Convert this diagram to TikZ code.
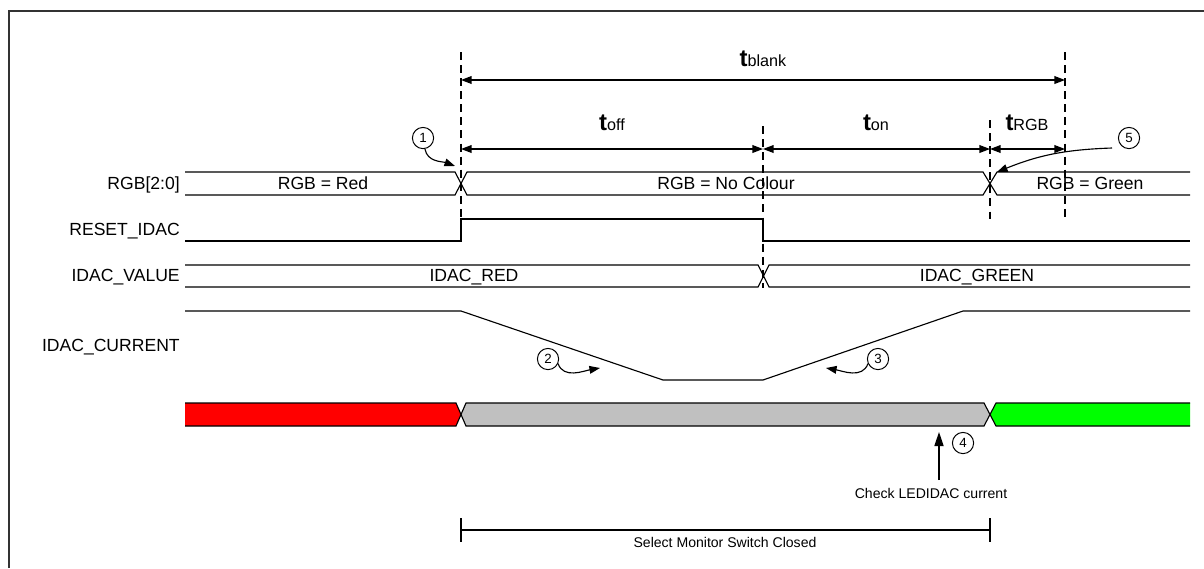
\documentclass[tikz,border=0pt]{standalone}
\usepackage{fontspec}
\setmainfont{Liberation Sans}
\usetikzlibrary{arrows.meta}
\definecolor{barred}{RGB}{255,0,0}
\definecolor{bargray}{RGB}{192,192,192}
\definecolor{bargreen}{RGB}{0,255,0}
\newcommand{\tname}[1]{{\fontsize{17}{17}\selectfont\bfseries t}\raisebox{-0.5pt}{\fontsize{11.5}{12}\selectfont #1}}
\begin{document}
\begin{tikzpicture}[
  x=0.025cm, y=-0.025cm,
  wave/.style={line width=0.8pt, draw=black},
  guide/.style={line width=0.8pt, draw=black, dash pattern=on 5.7pt off 3.6pt},
  span/.style={line width=0.8pt, {Triangle[length=7.5pt,width=5.5pt]}-{Triangle[length=7.5pt,width=5.5pt]}},
  pointer/.style={line width=0.8pt, -{Triangle[length=7.5pt,width=5.5pt]}},
  bubble/.style={circle, draw=black, line width=0.7pt, inner sep=0pt, minimum size=0.53cm, font=\fontsize{9.5}{10}\selectfont},
  siglabel/.style={anchor=base east, inner sep=0pt, font=\fontsize{12.5}{14}\selectfont},
  buslabel/.style={anchor=base, inner sep=0pt, font=\fontsize{12.5}{14}\selectfont},
  note/.style={anchor=base, inner sep=0pt, font=\fontsize{10}{12}\selectfont},
  tlabel/.style={anchor=base, inner sep=0pt}
]
  \useasboundingbox (0,0) rectangle (1204,568);

  % Marco
  \draw[line width=1pt, black!80] (9,568) -- (9,11) -- (1204,11);

  % Nombres de las señales
  \node[siglabel] (rgb) at (180,189) {RGB[2:0]};
  \node[siglabel] (rst) at (180,235) {RESET\_IDAC};
  \node[siglabel] (val) at (180,281) {IDAC\_VALUE};
  \node[siglabel] (cur) at (180,351) {IDAC\_CURRENT};

  % Bus RGB
  \draw[wave] (185,172) -- (455,172) -- (467,195) -- (983,195) -- (997,172) -- (1190,172);
  \draw[wave] (185,195) -- (455,195) -- (467,172) -- (983,172) -- (997,195) -- (1190,195);
  \node[buslabel] (red) at (323,189) {RGB = Red};
  \node[buslabel] (none) at (726,189) {RGB = No Colour};
  \node[buslabel] (green) at (1090,189) {RGB = Green};

  % RESET_IDAC
  \draw[wave] (185,241) -- (461,241) -- (461,219) -- (763,219) -- (763,241) -- (1190,241);

  % Bus IDAC_VALUE
  \draw[wave] (185,265) -- (758,265) -- (769,287) -- (1190,287);
  \draw[wave] (185,287) -- (758,287) -- (769,265) -- (1190,265);
  \node[buslabel] (vred) at (474,281) {IDAC\_RED};
  \node[buslabel] (vgreen) at (977,281) {IDAC\_GREEN};

  % IDAC_CURRENT
  \draw[wave] (185,311) -- (461,311) -- (663,380) -- (763,380) -- (963,311) -- (1190,311);

  % Barra de color
  \fill[barred] (185,403) -- (456,403) -- (461,414.5) -- (456,426) -- (185,426) -- cycle;
  \fill[bargray] (466,403) -- (984,403) -- (990,414.5) -- (984,426) -- (466,426) -- (461,414.5) -- cycle;
  \fill[bargreen] (996,403) -- (1190,403) -- (1190,426) -- (996,426) -- (990,414.5) -- cycle;
  \draw[wave] (185,403) -- (456,403) -- (466,426) -- (984,426) -- (996,403) -- (1190,403);
  \draw[wave] (185,426) -- (456,426) -- (466,403) -- (984,403) -- (996,426) -- (1190,426);

  % Líneas de referencia
  \coordinate (g1a) at (461,52);   \coordinate (g1b) at (461,219);
  \coordinate (g2a) at (763,126);  \coordinate (g2b) at (763,288);
  \coordinate (g3a) at (990,120);  \coordinate (g3b) at (990,219);
  \coordinate (g4a) at (1065,52);  \coordinate (g4b) at (1065,219);
  \draw[guide] (g1a) -- (g1b);
  \draw[guide] (g2a) -- (g2b);
  \draw[guide] (g3a) -- (g3b);
  \draw[guide] (g4a) -- (g4b);

  % Cotas de tiempo
  \coordinate (b1) at (461,80);   \coordinate (b2) at (1065,80);
  \coordinate (s1) at (461,149);  \coordinate (s2) at (763,149);
  \coordinate (s3) at (990,149);  \coordinate (s4) at (1065,149);
  \draw[span] (b1) -- (b2);
  \draw[span] (s1) -- (s2);
  \draw[span] (s2) -- (s3);
  \draw[span] (s3) -- (s4);
  \node[tlabel] (tblank) at (763,66) {\tname{blank}};
  \node[tlabel] (toff) at (612,130) {\tname{off}};
  \node[tlabel] (ton) at (876,130) {\tname{on}};
  \node[tlabel] (trgb) at (1027,130) {\tname{RGB}};

  % Llamadas numeradas
  \node[bubble] (c1) at (423,138) {1};
  \node[bubble] (c2) at (548,359) {2};
  \node[bubble] (c3) at (878,359) {3};
  \node[bubble] (c4) at (963,443) {4};
  \node[bubble] (c5) at (1129,138) {5};

  \coordinate (p1) at (455,166);
  \coordinate (p2) at (600,368);
  \coordinate (p3) at (826,368);
  \coordinate (c5tail) at (1112,148);
  \coordinate (p5) at (997,172);
  \draw[pointer] (c1.-80) to[out=-80, in=160] (p1);
  \draw[pointer] (c2.-25) to[out=-70, in=190] (p2);
  \draw[pointer] (c3.-155) to[out=-110, in=-10] (p3);
  \draw[pointer] (c5tail) to[out=182, in=22] (p5);

  % Comprobación de corriente
  \node[note] (check) at (931,498) {Check LEDIDAC current};
  \coordinate (chkfoot) at (939,480);
  \coordinate (chktip) at (939,432);
  \draw[line width=0.9pt, -{Triangle[length=10pt,width=6.5pt]}] (chkfoot) -- (chktip);

  % Intervalo del interruptor
  \coordinate (m1) at (461,530);  \coordinate (m2) at (990,530);
  \draw[wave] (461,518) -- (461,542);
  \draw[wave] (990,518) -- (990,542);
  \draw[wave] (m1) -- (m2);
  \node[note] (monitor) at (725,547) {Select Monitor Switch Closed};

\end{tikzpicture}
\end{document}
